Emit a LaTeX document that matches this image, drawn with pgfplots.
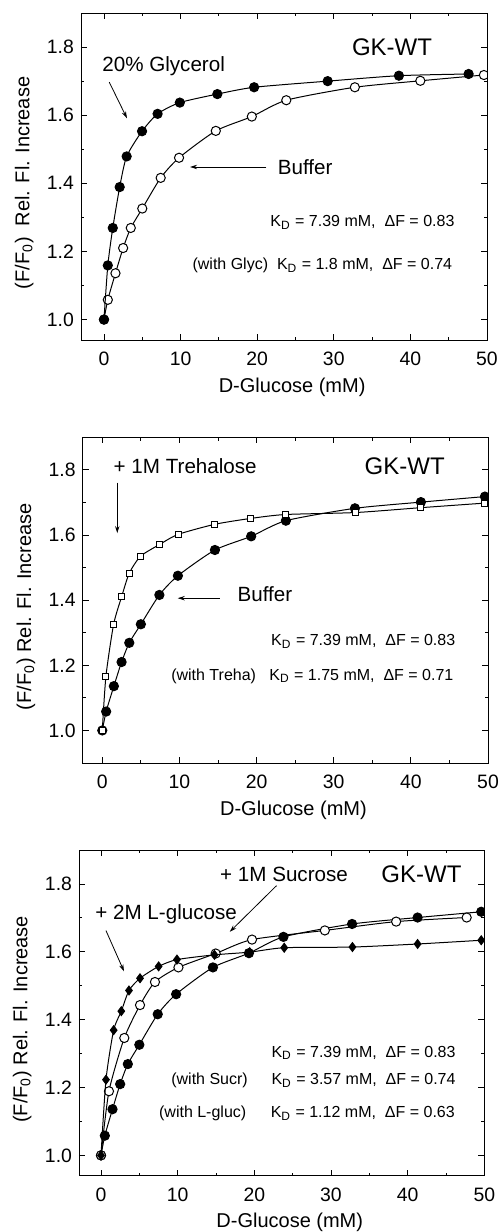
\documentclass[border=0pt]{standalone}
\usepackage{pgfplots}
\usepackage{pgfplotstable}
\pgfplotsset{compat=1.18}
\usetikzlibrary{arrows.meta}
\usepackage{fontspec}
\setmainfont{Liberation Sans}

\pgfplotstableread{
x y
0 1.000
0.5 1.058
1.5 1.136
2.5 1.210
3.5 1.269
5.0 1.326
7.4 1.416
9.8 1.475
14.6 1.554
19.3 1.596
23.8 1.644
32.75 1.682
41.3 1.701
49.6 1.718
}\buffer

\pgfplotstableread{
x y
0 1.000
0.5 1.159
1.15 1.269
2.05 1.389
2.96 1.479
4.97 1.553
7.0 1.604
9.9 1.637
14.8 1.662
19.6 1.682
29.2 1.700
38.5 1.716
47.6 1.721
}\glyc

\pgfplotstableread{
x y
0 1.000
0.47 1.166
1.47 1.326
2.5 1.410
3.5 1.483
4.97 1.535
7.43 1.571
9.84 1.602
14.6 1.633
19.26 1.651
23.75 1.663
32.8 1.669
41.3 1.684
49.6 1.698
}\treha

\pgfplotstableread{
x y
0 1.000
1.04 1.189
3.04 1.346
5.09 1.443
7.04 1.511
10.1 1.554
14.96 1.595
19.7 1.636
29.2 1.663
38.5 1.689
47.7 1.701
}\sucr

\pgfplotstableread{
x y
0 1.000
0.65 1.223
1.65 1.369
2.65 1.425
3.65 1.486
5.09 1.522
7.52 1.557
9.91 1.577
14.8 1.591
19.4 1.599
23.9 1.612
32.8 1.614
41.3 1.623
49.6 1.634
}\lgluc

\tikzset{
 annot/.style={font=\fontsize{10.3}{12}\selectfont, inner sep=0pt},
 gk/.style={font=\fontsize{12}{14}\selectfont, inner sep=0pt},
 kd/.style={font=\fontsize{8}{9}\selectfont, inner sep=0pt},
 arr/.style={-{Stealth[length=3.5pt,width=2.2pt]}, line width=0.4pt},
 fillc/.style={black, line width=0.5pt, smooth, tension=0.4, mark=*, mark size=2.3pt, mark options={fill=black, line width=0.5pt}},
 openc/.style={black, line width=0.5pt, smooth, tension=0.4, mark=*, mark size=2.3pt, mark options={fill=white, line width=0.5pt}},
 opensq/.style={black, line width=0.5pt, smooth, tension=0.4, mark=square*, mark size=1.5pt, mark options={fill=white, line width=0.5pt}},
 diam/.style={black, line width=0.5pt, smooth, tension=0.4, mark=diamond*, mark size=2.2pt, mark options={fill=black, line width=0.5pt}},
}

\pgfplotsset{
 panel/.style={
  scale only axis, anchor=south west,
  xmin=-3, xmax=50, ymin=0.94, ymax=1.9,
  xtick={0,10,20,30,40,50}, minor x tick num=1,
  ytick={1.0,1.2,1.4,1.6,1.8}, minor y tick num=1,
  /pgf/number format/assume math mode=true,
  yticklabel style={/pgf/number format/.cd, fixed, fixed zerofill, precision=1},
  tick label style={font=\fontsize{9.7}{11}\selectfont},
  xticklabel style={yshift=-2.5pt},
  label style={font=\fontsize{10.2}{12}\selectfont},
  major tick length=3pt, minor tick length=1.6pt,
  tick style={line width=0.4pt, black},
  xlabel={D-Glucose (mM)},
  every axis x label/.style={at={(axis description cs:0.52,-0.144)}, anchor=center},
  every axis y label/.style={at={(axis description cs:-0.14,0.48)}, rotate=90, anchor=center},
  clip marker paths=true,
 },
}

\begin{document}
\begin{tikzpicture}
\useasboundingbox (0,0) rectangle (250pt,-616pt);

% Panel 1
\begin{axis}[panel, at={(40.5pt,-170pt)}, width=203pt, height=163.5pt,
  ylabel={(F/F\textsubscript{0})\ \ Rel. Fl. Increase}]
\addplot[openc] table {\buffer};
\addplot[fillc] table {\glyc};
\node[annot, anchor=west] at (axis cs:-0.26,1.744) {20\% Glycerol};
\draw[arr] (axis cs:0.69,1.697) -- (axis cs:3.0,1.591);
\node[annot, anchor=west] at (axis cs:22.65,1.447) {Buffer};
\draw[arr] (axis cs:21.2,1.448) -- (axis cs:11.24,1.448);
\node[gk] at (axis cs:37.6,1.801) {GK-WT};
\node[kd, anchor=east] at (axis cs:45.8,1.285) {K\textsubscript{D} = 7.39 mM,\ \ ΔF = 0.83};
\node[kd, anchor=east] at (axis cs:45.5,1.159) {(with Glyc)\ \ K\textsubscript{D} = 1.8 mM,\ \ ΔF = 0.74};
\end{axis}

% Panel 2
\begin{axis}[panel, at={(41.35pt,-381.5pt)}, width=202.65pt, height=162.85pt, xmin=-2.54, ymin=0.9,
  ylabel={(F/F\textsubscript{0}) Rel. Fl. Increase}]
\addplot[fillc] table {\buffer};
\addplot[opensq] table {\treha};
\node[annot, anchor=west] at (axis cs:1.43,1.8125) {+ 1M Trehalose};
\draw[arr] (axis cs:1.94,1.761) -- (axis cs:1.94,1.606);
\node[annot, anchor=west] at (axis cs:17.49,1.418) {Buffer};
\draw[arr] (axis cs:15.25,1.406) -- (axis cs:9.78,1.406);
\node[gk] at (axis cs:39.2,1.811) {GK-WT};
\node[kd, anchor=east] at (axis cs:45.8,1.273) {K\textsubscript{D} = 7.39 mM,\ \ ΔF = 0.83};
\node[kd, anchor=east] at (axis cs:45.56,1.167) {(with Treha)\ \ \ K\textsubscript{D} = 1.75 mM,\ \ ΔF = 0.71};
\end{axis}

% Panel 3
\begin{axis}[panel, at={(39.5pt,-587.85pt)}, width=202.65pt, height=162.85pt, xmin=-2.87,
  ylabel={(F/F\textsubscript{0}) Rel. Fl. Increase}]
\addplot[fillc] table {\buffer};
\addplot[openc] table {\sucr};
\addplot[diam] table {\lgluc};
\node[annot, anchor=west] at (axis cs:15.5,1.8275) {+ 1M Sucrose};
\draw[arr] (axis cs:22.9,1.795) -- (axis cs:16.8,1.659);
\node[annot, anchor=west] at (axis cs:-0.78,1.7096) {+ 2M L-glucose};
\draw[arr] (axis cs:0.65,1.6625) -- (axis cs:3.0,1.5425);
\node[gk] at (axis cs:41.8,1.8275) {GK-WT};
\node[kd, anchor=east] at (axis cs:46.3,1.302) {K\textsubscript{D} = 7.39 mM,\ \ ΔF = 0.83};
\node[kd, anchor=east] at (axis cs:19.2,1.221) {(with Sucr)};
\node[kd, anchor=east] at (axis cs:46.3,1.221) {K\textsubscript{D} = 3.57 mM,\ \ ΔF = 0.74};
\node[kd, anchor=east] at (axis cs:19.0,1.123) {(with L-gluc)};
\node[kd, anchor=east] at (axis cs:46.2,1.123) {K\textsubscript{D} = 1.12 mM,\ \ ΔF = 0.63};
\end{axis}
\end{tikzpicture}
\end{document}
